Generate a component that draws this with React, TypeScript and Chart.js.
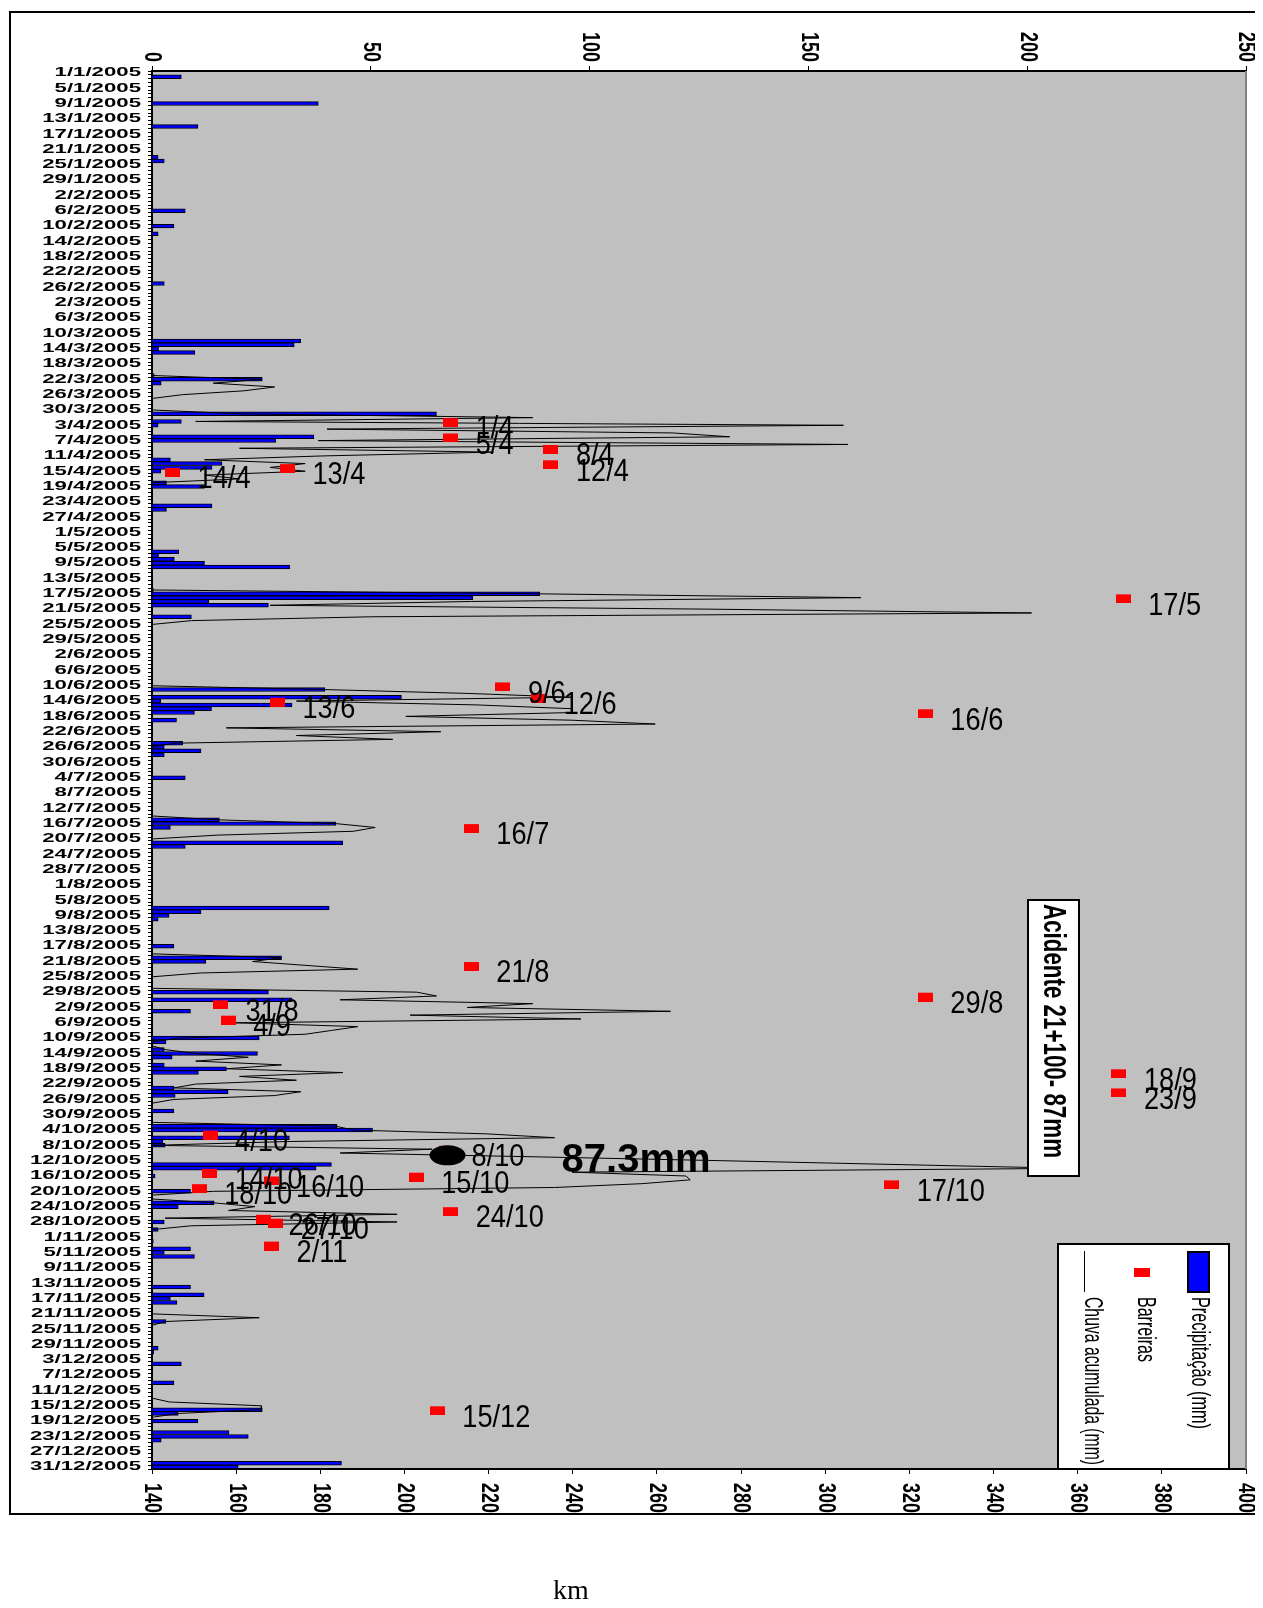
import { useEffect, useRef } from 'react';
import { Chart, registerables } from 'chart.js';

Chart.register(...registerables);

const YEAR = 2005;
const monthLengths = [31, 28, 31, 30, 31, 30, 31, 31, 30, 31, 30, 31];
const dayLabels: string[] = [];
monthLengths.forEach((len, m) => {
  for (let d = 1; d <= len; d++) dayLabels.push(`${d}/${m + 1}/${YEAR}`);
});
const dayIndex = (dm: string) => dayLabels.indexOf(`${dm}/${YEAR}`);

// Precipitação diária (mm)
const rainDates = [
  '2/1', '9/1', '15/1', '23/1', '24/1',
  '6/2', '10/2', '12/2', '25/2',
  '12/3', '13/3', '14/3', '15/3', '21/3', '22/3', '23/3', '31/3',
  '2/4', '3/4', '6/4', '7/4', '12/4', '13/4', '14/4', '15/4', '18/4', '19/4', '24/4', '25/4',
  '6/5', '7/5', '8/5', '9/5', '10/5', '16/5', '17/5', '18/5', '19/5', '20/5', '23/5',
  '11/6', '13/6', '14/6', '15/6', '16/6', '17/6', '19/6', '25/6', '26/6', '27/6', '28/6',
  '4/7', '15/7', '16/7', '17/7', '21/7', '22/7',
  '7/8', '8/8', '9/8', '10/8', '17/8', '20/8', '21/8', '29/8', '31/8',
  '3/9', '10/9', '11/9', '13/9', '14/9', '15/9', '17/9', '18/9', '19/9', '23/9', '24/9', '25/9', '29/9',
  '3/10', '4/10', '6/10', '7/10', '8/10', '13/10', '14/10', '16/10', '20/10', '23/10', '24/10', '28/10', '30/10',
  '2/11', '4/11', '5/11', '6/11', '14/11', '16/11', '17/11', '18/11', '23/11', '30/11',
  '1/12', '4/12', '9/12', '16/12', '17/12', '19/12', '22/12', '23/12', '24/12', '30/12', '31/12',
];
const rainMm = [
  6.7, 38, 10.5, 1.4, 2.8,
  7.6, 5, 1.4, 2.8,
  34, 32.5, 1.5, 9.8, 0.5, 25.2, 2.1, 65,
  6.7, 1.4, 37, 28.3, 4.2, 16, 13.7, 2, 3.3, 12, 13.7, 3.3,
  6.1, 1.5, 5.1, 12, 31.5, 0.3, 88.6, 73.3, 13, 26.6, 9,
  39.5, 57, 2, 32, 13.6, 9.7, 5.6, 7, 2.8, 11.2, 2.8,
  7.6, 15.4, 42, 4.2, 43.6, 7.6,
  40.5, 11.2, 3.9, 1.4, 5, 29.6, 12.3, 26.6, 32,
  8.8, 24.5, 3.2, 2.8, 24.1, 4.6, 2.8, 17, 10.6, 5, 17.4, 5.3, 5,
  42.3, 50.4, 31.4, 2.5, 3, 41, 37.5, 0.7, 8.8, 14.2, 6, 2.8, 1.4,
  0.3, 8.8, 2.8, 9.7, 8.8, 11.9, 4.2, 5.7, 3.2, 1.4,
  0.4, 6.7, 5, 25.2, 6, 10.5, 17.6, 22, 2.1, 43.3, 19.7,
];

// Chuva acumulada (mm)
const accDates = [
  '21/3', '22/3', '23/3', '24/3', '25/3', '26/3', '27/3',
  '30/3', '31/3', '1/4', '2/4', '3/4', '4/4', '5/4', '6/4', '7/4', '8/4', '9/4', '10/4', '11/4', '12/4', '13/4', '14/4', '15/4', '16/4', '17/4', '18/4',
  '16/5', '17/5', '18/5', '19/5', '20/5', '21/5', '22/5', '23/5', '24/5', '25/5',
  '10/6', '11/6', '12/6', '13/6', '14/6', '15/6', '16/6', '17/6', '18/6', '19/6', '20/6', '21/6', '22/6', '23/6', '24/6', '25/6', '26/6',
  '14/7', '15/7', '16/7', '17/7', '18/7', '19/7', '20/7',
  '19/8', '20/8', '21/8', '22/8', '23/8', '24/8', '25/8',
  '28/8', '29/8', '30/8', '31/8', '1/9', '2/9', '3/9', '4/9', '5/9', '6/9', '7/9', '8/9', '9/9', '10/9', '11/9',
  '12/9', '13/9', '14/9', '15/9', '16/9', '17/9', '18/9', '19/9', '20/9', '21/9', '22/9', '23/9', '24/9', '25/9', '26/9', '27/9',
  '2/10', '3/10', '4/10', '5/10', '6/10', '7/10', '8/10', '9/10', '10/10', '11/10', '12/10', '13/10', '14/10', '15/10', '16/10', '17/10', '18/10', '19/10', '20/10', '21/10',
  '22/10', '23/10', '24/10', '25/10', '26/10', '27/10', '28/10', '29/10', '30/10',
  '21/11', '22/11', '23/11', '24/11',
  '13/12', '14/12', '15/12', '16/12', '17/12', '18/12',
];
const accMm = [
  0, 25, 14, 28, 21, 7, 0,
  0, 20, 87, 10, 158, 40, 119, 132, 38, 159, 20, 78, 39, 12, 35, 27, 35, 12, 20, 0,
  0, 88, 162, 73, 27, 127, 201, 50, 9, 0,
  0, 39.5, 72, 96, 33, 74, 96, 96, 58, 96, 115, 17, 66, 33, 55, 5, 0,
  0, 15, 42, 51, 46, 15, 0,
  0, 29.6, 23, 35, 47, 11, 0,
  0, 60.5, 65, 43, 87, 72, 118.5, 59, 98, 19, 47, 41, 35, 6, 0,
  0, 3, 10, 22, 10, 29.6, 17, 43.6, 20, 33, 10, 5, 34, 28, 5, 0,
  0, 42, 46, 76.5, 92, 31, 0, 64, 43, 88, 130, 170, 210, 96, 122, 123, 112, 92, 14, 0,
  0, 14, 23.5, 17.5, 56, 3, 56, 9, 0,
  0, 24.5, 3, 0,
  0, 4, 25, 25, 6, 0,
];

// Barreiras (data, km)
const barreiraDates = [
  '1/4', '5/4', '8/4', '12/4', '13/4', '14/4', '17/5', '9/6', '12/6', '13/6', '16/6', '16/7', '21/8', '29/8', '31/8',
  '4/9', '18/9', '23/9', '4/10', '8/10', '14/10', '15/10', '16/10', '17/10', '18/10', '24/10', '26/10', '27/10', '2/11', '15/12',
];
const barreiraKm = [
  211, 211, 234.8, 234.8, 172.2, 144.9, 370.8, 223.4, 231.9, 169.8, 323.8, 215.9, 215.9, 323.8, 156.3,
  158.1, 369.8, 369.8, 153.8, 210, 153.7, 202.8, 168.3, 315.8, 151.2, 211, 166.5, 169.4, 168.4, 207.8,
];

const precTickValues = [0, 50, 100, 150, 200, 250];
const kmTickValues = [140, 160, 180, 200, 220, 240, 260, 280, 300, 320, 340, 360, 380, 400];

const precipSeries: (number | null)[] = dayLabels.map(() => null);
rainDates.forEach((d, k) => { precipSeries[dayIndex(d)] = rainMm[k]; });
const accSeries: (number | null)[] = dayLabels.map(() => null);
accDates.forEach((d, k) => { accSeries[dayIndex(d)] = accMm[k]; });
const barreiraPoints = barreiraDates.map((d, k) => ({ x: barreiraKm[k], y: `${d}/${YEAR}` }));

const SANS = '"Liberation Sans", Arial, sans-serif';
const MARK_DY = 5; // visual drop of the marker glyph below the date centre

export default function App() {
  const ref = useRef<HTMLCanvasElement>(null);

  useEffect(() => {
    const canvas = ref.current;
    if (!canvas) return;
    const marker = document.createElement('canvas');
    marker.width = 15;
    marker.height = 9 + 2 * MARK_DY;
    const mctx = marker.getContext('2d')!;
    mctx.fillStyle = '#ff0000';
    mctx.fillRect(0, 2 * MARK_DY, 15, 9);

    const decor = {
      id: 'decor',
      beforeDraw(chart: any) {
        const { ctx, chartArea: a } = chart;
        ctx.save();
        ctx.fillStyle = '#ffffff';
        ctx.fillRect(0, 0, chart.width, chart.height);
        ctx.fillStyle = '#c0c0c0';
        ctx.fillRect(a.left, a.top, a.right - a.left, a.bottom - a.top);
        ctx.restore();
      },
      afterDraw(chart: any) {
        const { ctx, chartArea: a, scales } = chart;
        const yS = scales.y, xP = scales.xPrec, xK = scales.xKm;
        ctx.save();
        ctx.strokeStyle = '#808080';
        ctx.lineWidth = 2;
        ctx.beginPath();
        ctx.moveTo(a.right, a.top);
        ctx.lineTo(a.right, a.bottom);
        ctx.stroke();
        ctx.strokeStyle = '#000';
        ctx.lineWidth = 2;
        ctx.strokeRect(2, 4, 1250, 1502);

        ctx.fillStyle = '#000';
        ctx.font = `bold 12px ${SANS}`;
        ctx.textAlign = 'right';
        ctx.textBaseline = 'middle';
        dayLabels.forEach((lab, i) => {
          if (i % 4 !== 0) return;
          const y = yS.getPixelForValue(i);
          ctx.save();
          ctx.translate(a.left - 11, y);
          ctx.scale(1.85, 1);
          ctx.fillText(lab, 0, 0);
          ctx.restore();
        });

        const rotText = (text: string, x: number, y: number, align: CanvasTextAlign, font: string, sx: number, maxW?: number) => {
          ctx.save();
          ctx.translate(x, y);
          ctx.rotate(Math.PI / 2);
          ctx.scale(sx, 1);
          ctx.font = font;
          ctx.textAlign = align;
          ctx.textBaseline = 'middle';
          if (maxW) ctx.fillText(text, 0, 0, maxW);
          else ctx.fillText(text, 0, 0);
          ctx.restore();
        };
        precTickValues.forEach((v) => rotText(String(v), xP.getPixelForValue(v), a.top - 9, 'right', `bold 24px ${SANS}`, 0.75));
        kmTickValues.forEach((v) => rotText(String(v), xK.getPixelForValue(v), a.bottom + 14, 'left', `bold 24px ${SANS}`, 0.75));

        const meta = chart.getDatasetMeta(2);
        const p810 = meta.data[barreiraDates.indexOf('8/10')];
        ctx.fillStyle = '#000';
        ctx.beginPath();
        ctx.ellipse(p810.x + 1, p810.y + 10, 18, 10, 0, 0, Math.PI * 2);
        ctx.fill();

        ctx.font = `32px ${SANS}`;
        ctx.textAlign = 'left';
        ctx.textBaseline = 'middle';
        meta.data.forEach((pt: any, k: number) => {
          ctx.save();
          ctx.translate(pt.x + 25, pt.y + MARK_DY + 7);
          ctx.scale(0.85, 1);
          ctx.fillText(barreiraDates[k], 0, 0);
          ctx.restore();
        });

        ctx.font = `bold 40px ${SANS}`;
        ctx.fillText('87.3mm', xP.getPixelForValue(93.6), yS.getPixelForValue(dayIndex('11/10')) + 4);

        ctx.fillStyle = '#fff';
        ctx.fillRect(1020, 892, 51, 276);
        ctx.strokeStyle = '#000';
        ctx.lineWidth = 2;
        ctx.strokeRect(1020, 892, 51, 276);
        ctx.fillStyle = '#000';
        rotText('Acidente 21+100- 87mm', 1045, 896, 'left', `bold 32px ${SANS}`, 1, 254);

        ctx.fillStyle = '#fff';
        ctx.fillRect(1050, 1236, 171, 225);
        ctx.strokeStyle = '#000';
        ctx.lineWidth = 2;
        ctx.strokeRect(1050, 1236, 171, 225);
        ctx.fillStyle = '#0000ff';
        ctx.fillRect(1180, 1244, 21, 40);
        ctx.strokeRect(1180, 1244, 21, 40);
        ctx.fillStyle = '#ff0000';
        ctx.fillRect(1126, 1260, 16, 9);
        ctx.lineWidth = 1;
        ctx.beginPath();
        ctx.moveTo(1076.5, 1243);
        ctx.lineTo(1076.5, 1284);
        ctx.stroke();
        ctx.fillStyle = '#000';
        rotText('Precipitação (mm)', 1191, 1289, 'left', `26px ${SANS}`, 1, 132);
        rotText('Barreiras', 1137, 1289, 'left', `26px ${SANS}`, 1, 65);
        rotText('Chuva acumulada (mm)', 1084, 1289, 'left', `26px ${SANS}`, 1, 168);

        ctx.font = '28px "Liberation Serif", "Times New Roman", serif';
        ctx.textAlign = 'center';
        ctx.textBaseline = 'alphabetic';
        ctx.fillText('km', 563, 1591);
        ctx.restore();
      },
    };

    const chart = new Chart(canvas, {
      type: 'bar',
      data: {
        labels: dayLabels,
        datasets: [
          {
            type: 'bar',
            label: 'Precipitação (mm)',
            data: precipSeries,
            xAxisID: 'xPrec',
            yAxisID: 'y',
            backgroundColor: '#0000ff',
            borderColor: '#000000',
            borderWidth: 1,
            barPercentage: 1,
            categoryPercentage: 1,
            order: 3,
          } as any,
          {
            type: 'line',
            label: 'Chuva acumulada (mm)',
            data: accSeries,
            xAxisID: 'xPrec',
            yAxisID: 'y',
            indexAxis: 'y',
            borderColor: '#000000',
            borderWidth: 1,
            pointRadius: 0,
            tension: 0,
            spanGaps: false,
            fill: false,
            order: 2,
          } as any,
          {
            type: 'scatter',
            label: 'Barreiras',
            data: barreiraPoints,
            xAxisID: 'xKm',
            yAxisID: 'y',
            pointStyle: marker,
            order: 1,
          } as any,
        ],
      },
      options: {
        indexAxis: 'y',
        responsive: false,
        maintainAspectRatio: false,
        animation: false,
        devicePixelRatio: 1,
        events: [],
        layout: { padding: { left: 0, top: 0, right: 17, bottom: 0 } },
        plugins: { legend: { display: false }, tooltip: { enabled: false } },
        scales: {
          y: {
            type: 'category',
            position: 'left',
            offset: true,
            grid: { display: true, drawOnChartArea: false, drawTicks: true, tickLength: 4, color: '#000', offset: true },
            border: { display: true, color: '#000', width: 2 },
            ticks: { display: false, autoSkip: false },
            afterFit: (s: any) => { s.width = 144; },
          },
          xPrec: {
            type: 'linear',
            position: 'top',
            min: 0,
            max: 250,
            afterBuildTicks: (s: any) => { s.ticks = precTickValues.map((v) => ({ value: v })); },
            ticks: { display: false },
            grid: { display: true, drawOnChartArea: false, drawTicks: true, tickLength: 5, color: '#000' },
            border: { display: true, color: '#000', width: 2 },
            afterFit: (s: any) => { s.height = 63; },
          },
          xKm: {
            type: 'linear',
            position: 'bottom',
            min: 140,
            max: 400,
            afterBuildTicks: (s: any) => { s.ticks = kmTickValues.map((v) => ({ value: v })); },
            ticks: { display: false },
            grid: { display: true, drawOnChartArea: false, drawTicks: true, tickLength: 5, color: '#000' },
            border: { display: true, color: '#000', width: 2 },
            afterFit: (s: any) => { s.height = 131; },
          },
        },
      } as any,
      plugins: [decor],
    });
    return () => chart.destroy();
  }, []);

  return <canvas ref={ref} width={1255} height={1592} style={{ display: 'block' }} />;
}
